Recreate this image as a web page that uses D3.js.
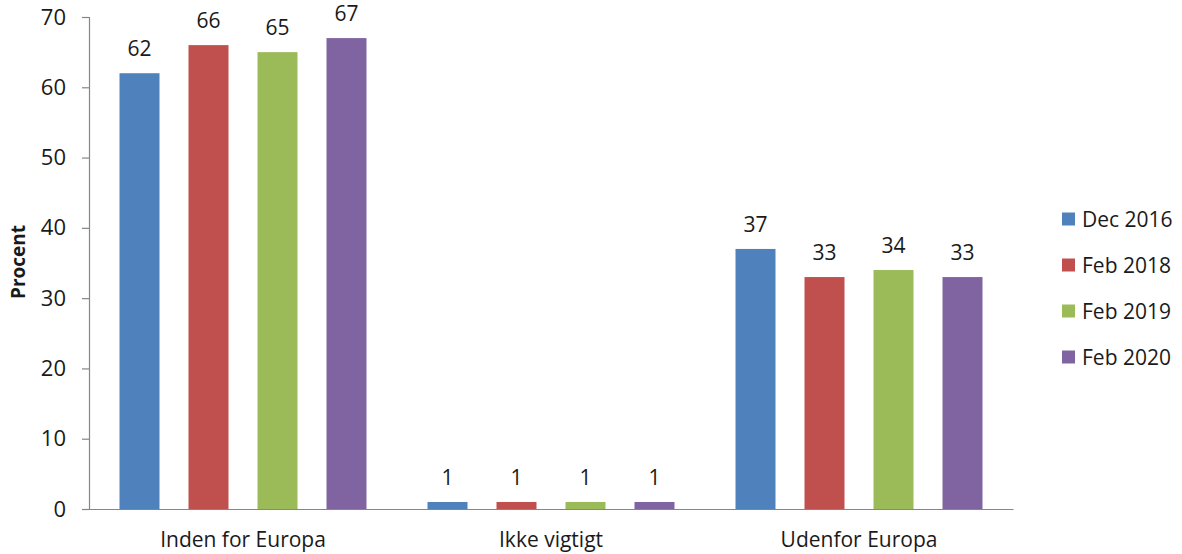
<!DOCTYPE html>
<html>
<head>
<meta charset="utf-8">
<script src="https://cdn.jsdelivr.net/npm/d3@7"></script>
<style>
  html, body { margin: 0; padding: 0; background: #fff; }
  svg { display: block; }
  text { font-family: "Open Sans", "Liberation Sans", sans-serif; fill: #1a1a1a; }
</style>
</head>
<body>
<svg id="chart" width="1182" height="554"></svg>
<script>
// Categories along the x axis
const categories = ["Inden for Europa", "Ikke vigtigt", "Udenfor Europa"];
// Survey rounds (series)
const seriesNames = ["Dec 2016", "Feb 2018", "Feb 2019", "Feb 2020"];
const seriesColors = ["#4F81BD", "#C0504D", "#9BBB59", "#8064A2"];
// Percentages per series, in category order
const dec2016 = [62, 1, 37];
const feb2018 = [66, 1, 33];
const feb2019 = [65, 1, 34];
const feb2020 = [67, 1, 33];
const seriesValues = [dec2016, feb2018, feb2019, feb2020];
// Y axis ticks
const yTicks = [0, 10, 20, 30, 40, 50, 60, 70];

const svg = d3.select("#chart");
const plot = { left: 89, right: 1013, top: 17, bottom: 509 };

const x0 = d3.scaleBand().domain(categories).range([plot.left, plot.right]).paddingInner(0).paddingOuter(0);
const x1 = d3.scaleBand().domain(seriesNames).range([30.5, x0.bandwidth() - 30.5]).paddingInner(29 / 69).paddingOuter(0);
const y = d3.scaleLinear().domain([0, 70]).range([plot.bottom, plot.top]);

// Y axis
const yAxis = svg.append("g")
  .attr("transform", `translate(${plot.left},0)`)
  .call(d3.axisLeft(y).tickValues(yTicks).tickSize(7).tickPadding(16));
yAxis.select(".domain").attr("stroke", "#868686").attr("stroke-width", 1.2);
yAxis.selectAll(".tick line").attr("stroke", "#868686").attr("stroke-width", 1.2);
yAxis.selectAll(".tick text").attr("font-size", 22).attr("fill", "#1a1a1a")
  .attr("font-family", "'Open Sans', sans-serif");

// X axis baseline
const xAxis = svg.append("g")
  .attr("transform", `translate(0,${plot.bottom})`)
  .call(d3.axisBottom(x0).tickSize(0).tickPadding(23));
xAxis.select(".domain").attr("stroke", "#868686").attr("stroke-width", 1.2);
xAxis.selectAll(".tick text").attr("font-size", 21).attr("fill", "#1a1a1a")
  .attr("font-family", "'Open Sans', sans-serif");

// Y axis title
svg.append("text")
  .attr("transform", "translate(25,262) rotate(-90)")
  .attr("text-anchor", "middle")
  .attr("font-size", 19)
  .attr("font-weight", "bold")
  .text("Procent");

// Bars
const groups = svg.append("g").selectAll("g")
  .data(categories)
  .join("g")
  .attr("transform", d => `translate(${x0(d)},0)`);

groups.selectAll("rect")
  .data((c, ci) => seriesNames.map((s, si) => ({ s, v: seriesValues[si][ci], color: seriesColors[si] })))
  .join("rect")
  .attr("x", d => x1(d.s))
  .attr("width", x1.bandwidth())
  .attr("y", d => y(d.v))
  .attr("height", d => y(0) - y(d.v))
  .attr("fill", d => d.color);

groups.selectAll("text.val")
  .data((c, ci) => seriesNames.map((s, si) => ({ s, v: seriesValues[si][ci] })))
  .join("text")
  .attr("class", "val")
  .attr("x", d => x1(d.s) + x1.bandwidth() / 2)
  .attr("y", d => y(d.v) - 17)
  .attr("text-anchor", "middle")
  .attr("font-size", 21)
  .text(d => d.v);

// Legend
const legend = svg.append("g").attr("transform", "translate(1062,219)");
const items = legend.selectAll("g")
  .data(seriesNames)
  .join("g")
  .attr("transform", (d, i) => `translate(0,${i * 46})`);
items.append("rect")
  .attr("x", 0).attr("y", -6.5).attr("width", 13).attr("height", 13)
  .attr("fill", (d, i) => seriesColors[i]);
items.append("text")
  .attr("x", 20).attr("y", 7.5)
  .attr("font-size", 21)
  .text(d => d);
</script>
</body>
</html>
